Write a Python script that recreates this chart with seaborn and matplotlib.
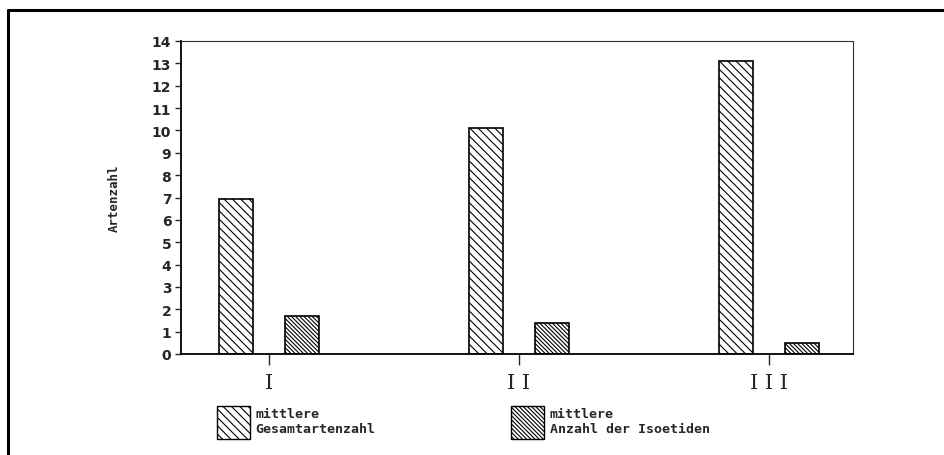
import pandas as pd
import seaborn as sns
import matplotlib.pyplot as plt
from matplotlib.lines import Line2D
from matplotlib.patches import Patch

gruppen = ["I", "I I", "I I I"]
gesamt = [6.95, 10.1, 13.1]
isoetiden = [1.7, 1.4, 0.5]
serien = ["mittlere\nGesamtartenzahl", "mittlere\nAnzahl der Isoetiden"]
hatches = ["\\" * 4, "\\" * 8]

df = pd.DataFrame({
    "Gruppe": gruppen * 2,
    "Wert": gesamt + isoetiden,
    "Serie": [serien[0]] * 3 + [serien[1]] * 3,
})

sns.set_style("white")
plt.rcParams["hatch.linewidth"] = 0.8

fig = plt.figure(figsize=(9.45, 4.56), dpi=100)
ax = fig.add_axes([181 / 945, 1 - 355 / 456, 672 / 945, 313 / 456])

sns.barplot(data=df, x="Gruppe", y="Wert", hue="Serie", order=gruppen,
            hue_order=serien, width=0.532, gap=0.49, dodge=True,
            palette=["white", "white"], edgecolor="black", linewidth=1.2,
            legend=False, ax=ax)

for cont, h in zip(ax.containers, hatches):
    for bar in cont:
        bar.set_hatch(h)

ax.set_xlim(-0.352, 2.336)
ax.set_ylim(0, 14)
ax.set_yticks(range(0, 15))
ax.set_xlabel("")
ax.set_ylabel("Artenzahl", family="DejaVu Sans Mono", fontweight="bold",
              fontsize=9, labelpad=22)

for s in ["left", "bottom"]:
    ax.spines[s].set_linewidth(1.3)
    ax.spines[s].set_color("black")
for s in ["top", "right"]:
    ax.spines[s].set_linewidth(0.8)
    ax.spines[s].set_color("#333333")

ax.tick_params(axis="y", direction="out", length=4, width=1, left=True,
               labelsize=10, pad=3)
ax.tick_params(axis="x", direction="out", length=8, width=1, bottom=True,
               labelsize=15, pad=6)
for lab in ax.get_yticklabels():
    lab.set_fontweight("bold")
    lab.set_family("DejaVu Sans")
for lab in ax.get_xticklabels():
    lab.set_family("DejaVu Serif")

handles = [Patch(facecolor="white", edgecolor="black", hatch=h, linewidth=1.0)
           for h in hatches]
fig.legend(handles, serien, loc="upper left", bbox_to_anchor=(212 / 945, 1 - 402 / 456),
           ncol=2, frameon=False, handlelength=2.5, handleheight=3.4,
           handletextpad=0.4, columnspacing=10.3, borderaxespad=0,
           prop={"family": "DejaVu Sans Mono", "weight": "bold", "size": 9.5})

fig.add_artist(Line2D([8.5 / 945, 1.0], [1 - 11 / 456, 1 - 11 / 456],
                      color="black", linewidth=2.2, transform=fig.transFigure))
fig.add_artist(Line2D([8.5 / 945, 8.5 / 945], [0.0, 1 - 11 / 456],
                      color="black", linewidth=2.2, transform=fig.transFigure))

plt.savefig("out.png", dpi=100)
